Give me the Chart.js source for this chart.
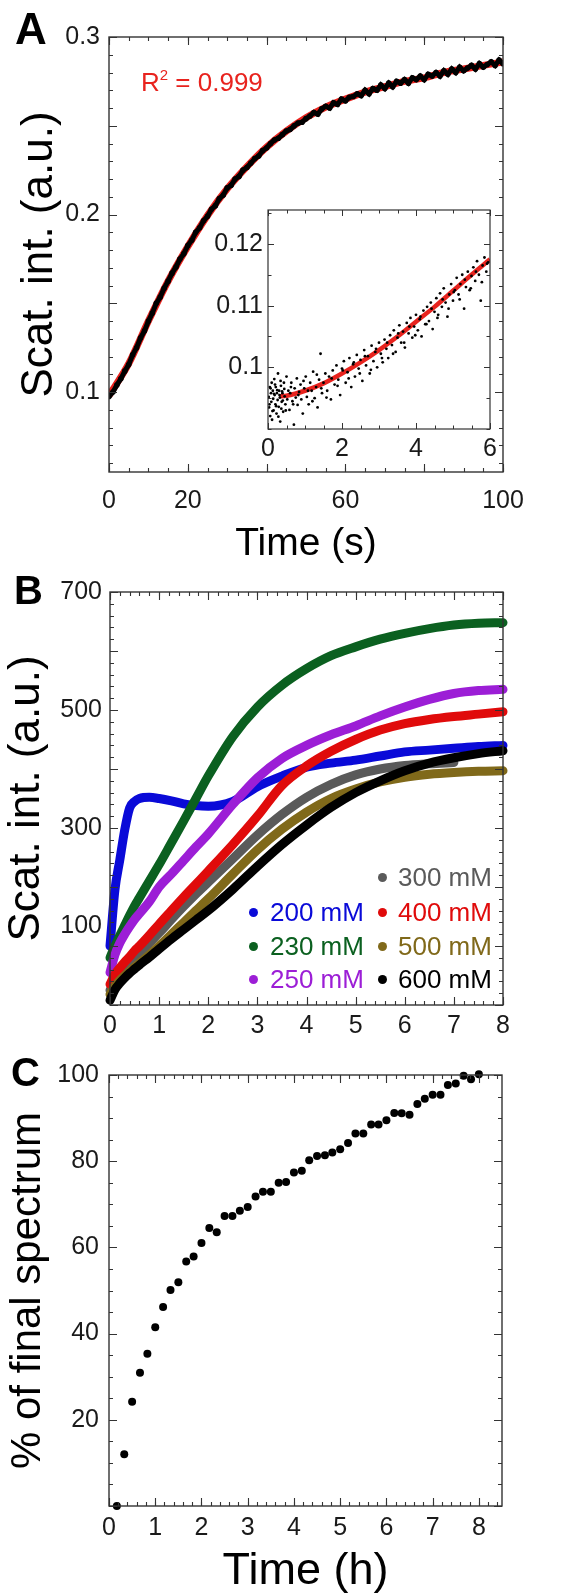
<!DOCTYPE html>
<html>
<head>
<meta charset="utf-8">
<script src="https://cdn.jsdelivr.net/npm/chart.js@4.4.1/dist/chart.umd.min.js"></script>
<style>
  html, body { margin: 0; padding: 0; background: #fff; }
  body { width: 576px; height: 1594px; position: relative; overflow: hidden; font-family: "Liberation Sans", Arial, sans-serif; }
  canvas { position: absolute; }
  .lbl { position: absolute; line-height: 1; white-space: nowrap; }
  .letter { font-weight: bold; color: #000; }
  .dot { position: absolute; border-radius: 50%; }
</style>
</head>
<body>
<canvas id="cA" width="576" height="570" style="left:0;top:0;width:576px;height:570px"></canvas>
<canvas id="cIn" width="310" height="280" style="left:200px;top:190px;width:310px;height:280px"></canvas>
<canvas id="cB" width="576" height="510" style="left:0;top:560px;width:576px;height:510px"></canvas>
<canvas id="cC" width="576" height="544" style="left:0;top:1050px;width:576px;height:544px"></canvas>

<div class="lbl letter" style="left:15px;top:7px;font-size:44px">A</div>
<div class="lbl letter" style="left:14px;top:570px;font-size:40px">B</div>
<div class="lbl letter" style="left:11px;top:1052px;font-size:40px">C</div>
<div class="lbl" style="left:141px;top:69px;font-size:26px;color:#e8231e">R<sup style="font-size:15px;vertical-align:11px;line-height:0">2</sup> = 0.999</div>
<div id="legendB"></div>

<script>
// ---------- Panel A: main kinetics (time in s) ----------
const aTime = [0,1,2,3,4,5,6,7,8,9,10,11,12,13,14,15,16,17,18,19,20,21,22,23,24,25,26,27,28,29,30,31,32,33,34,35,36,37,38,39,40,41,42,43,44,45,46,47,48,49,50,51,52,53,54,55,56,57,58,59,60,61,62,63,64,65,66,67,68,69,70,71,72,73,74,75,76,77,78,79,80,81,82,83,84,85,86,87,88,89,90,91,92,93,94,95,96,97,98,99,100];
const aScat = [0.0975,0.1000,0.1040,0.1075,0.1118,0.1155,0.1210,0.1250,0.1305,0.1345,0.1400,0.1445,0.1500,0.1535,0.1585,0.1625,0.1670,0.1705,0.1750,0.1780,0.1825,0.1855,0.1900,0.1925,0.1965,0.1990,0.2030,0.2050,0.2090,0.2110,0.2150,0.2165,0.2200,0.2215,0.2250,0.2265,0.2290,0.2315,0.2330,0.2360,0.2375,0.2400,0.2420,0.2430,0.2450,0.2470,0.2480,0.2500,0.2515,0.2520,0.2540,0.2555,0.2575,0.2565,0.2595,0.2610,0.2600,0.2630,0.2620,0.2650,0.2640,0.2660,0.2665,0.2680,0.2670,0.2700,0.2680,0.2710,0.2700,0.2730,0.2710,0.2740,0.2720,0.2750,0.2740,0.2760,0.2740,0.2770,0.2760,0.2780,0.2760,0.2790,0.2780,0.2800,0.2780,0.2810,0.2790,0.2820,0.2800,0.2830,0.2810,0.2825,0.2840,0.2820,0.2850,0.2830,0.2845,0.2860,0.2840,0.2870,0.2850];
const aFitTime = [0,5,10,15,20,25,30,35,40,45,50,55,60,65,70,75,80,85,90,95,100];
const aFit = [0.0980,0.1160,0.1400,0.1625,0.1820,0.1995,0.2145,0.2270,0.2380,0.2470,0.2545,0.2605,0.2650,0.2690,0.2720,0.2750,0.2770,0.2800,0.2820,0.2840,0.2860];
const aXLabels = [0,20,60,100];
const aYLabels = [0.1,0.2,0.3];

// ---------- Panel A inset (first 6 s) ----------
const inT = [0.02,0.03,0.05,0.06,0.08,0.09,0.1,0.11,0.13,0.14,0.15,0.17,0.18,0.2,0.21,0.23,0.24,0.26,0.27,0.29,0.3,0.32,0.33,0.35,0.37,0.39,0.41,0.43,0.45,0.47,0.5,0.52,0.55,0.58,0.6,0.63,0.66,0.7,0.72,0.75,0.78,0.8,0.84,0.88,0.9,0.94,0.98,1.02,1.05,1.1,1.14,1.18,1.22,1.26,1.3,1.34,1.38,1.42,1.46,1.5,1.55,1.6,1.65,1.7,1.75,1.8,1.85,1.9,1.95,2.0,2.05,2.1,2.15,2.2,2.25,2.3,2.35,2.4,2.45,2.5,2.55,2.6,2.65,2.7,2.75,2.8,2.85,2.9,2.95,3.0,3.05,3.1,3.15,3.2,3.25,3.3,3.35,3.4,3.45,3.5,3.55,3.6,3.65,3.7,3.75,3.8,3.85,3.9,3.95,4.0,4.05,4.1,4.15,4.2,4.25,4.3,4.35,4.4,4.45,4.5,4.55,4.6,4.65,4.7,4.75,4.8,4.85,4.9,4.95,5.0,5.05,5.1,5.15,5.2,5.25,5.3,5.35,5.4,5.45,5.5,5.55,5.6,5.65,5.7,5.75,5.8,5.85,5.9,5.95,0.04,0.07,0.12,0.16,0.19,0.22,0.25,0.28,0.31,0.34,0.36,0.38,0.4,0.44,0.48,0.62,0.68,0.82,0.96,1.08,1.2,1.32,1.44,1.58,1.72,1.88,2.02,2.18,2.32,2.48,2.62,2.78,2.92,3.08,3.22,3.38,3.52,3.68,3.82,3.98,4.12,4.28,4.42,4.58,4.72,4.88,5.02,5.18,5.32,5.48,5.62,5.78,5.92];
const inV = [0.0952,0.0935,0.0968,0.0921,0.0958,0.0944,0.0975,0.0915,0.0962,0.0949,0.0930,0.0981,0.0955,0.0940,0.0968,0.0925,0.0958,0.0947,0.0990,0.0936,0.0962,0.0951,0.0912,0.0970,0.0944,0.0958,0.0928,0.0975,0.0953,0.0940,0.0985,0.0948,0.0962,0.0931,0.0958,0.0975,0.0945,0.0907,0.0966,0.0951,0.0982,0.0939,0.0960,0.0972,0.0948,0.0925,0.0966,0.0985,0.0952,0.0940,0.0975,0.0962,0.0993,0.0950,0.0968,0.0935,0.0980,0.1022,0.0958,0.0975,0.0990,0.0962,0.0985,0.0948,0.0995,0.0972,0.1003,0.0980,0.0955,0.0998,0.1010,0.0975,0.0992,0.1015,0.0968,0.1005,0.0985,0.1020,0.0998,0.1012,0.0978,0.1028,0.1003,0.1018,0.0990,0.1035,0.1010,0.1025,0.1000,0.1040,0.1022,0.1008,0.1045,0.1030,0.1015,0.1052,0.1036,0.1060,0.1025,0.1048,0.1068,0.1040,0.1058,0.1032,0.1072,0.1055,0.1080,0.1048,0.1066,0.1085,0.1060,0.1078,0.1050,0.1092,0.1070,0.1098,0.1075,0.1105,0.1062,0.1090,0.1112,0.1085,0.1120,0.1098,0.1128,0.1105,0.1082,0.1118,0.1135,0.1108,0.1125,0.1145,0.1118,0.1135,0.1150,0.1095,0.1130,0.1155,0.1125,0.1148,0.1162,0.1140,0.1172,0.1150,0.1108,0.1165,0.1178,0.1155,0.1170,0.0940,0.0966,0.0929,0.0957,0.0972,0.0937,0.0963,0.0920,0.0955,0.0978,0.0933,0.0961,0.0946,0.0965,0.0930,0.0968,0.0940,0.0955,0.0978,0.0962,0.0945,0.0988,0.0966,0.0951,0.0982,0.0970,0.0995,0.0982,0.1008,0.0990,0.1018,0.0996,0.1030,0.1015,0.1040,0.1022,0.1055,0.1040,0.1066,0.1052,0.1082,0.1070,0.1095,0.1080,0.1110,0.1095,0.1122,0.1110,0.1142,0.1128,0.1155,0.1138,0.1168];
const inFitT = [0.3,0.5,1,1.5,2,2.5,3,3.5,4,4.5,5,5.5,6];
const inFit = [0.0953,0.0954,0.0962,0.0974,0.0990,0.1008,0.1028,0.1050,0.1074,0.1098,0.1124,0.1150,0.1175];
const inXLabels = [0,2,4,6];
const inYLabels = [0.1,0.11,0.12];

// ---------- Panel B: scattering vs time (h) at several concentrations ----------
const bTime = [0,0.1,0.2,0.3,0.4,0.5,0.6,0.8,1,1.25,1.5,1.75,2,2.5,3,3.5,4,4.5,5,5.5,6,6.5,7,7.5,8];
const bLabels = ['200 mM','230 mM','250 mM','300 mM','400 mM','500 mM','600 mM'];
const bColors = ['#0a0ad8','#0b6020','#9c1ed6','#5a5a5a','#e00b0b','#80691a','#000000'];
const b200 = [100,195,246,297,334,345,350,352,350,346,341,338,337,345,370,388,403,410,415,422,429,432,435,438,440];
const b230 = [80,100,118,135,152,168,182,210,238,275,312,350,388,455,505,542,570,592,607,620,630,638,644,647,648];
const b250 = [55,85,105,120,133,145,155,175,200,222,245,268,290,340,385,418,440,458,473,490,505,518,528,533,535];
const b300 = [25,42,53,62,71,80,88,105,122,145,167,188,208,248,288,323,352,374,390,400,406,409,411,null,null];
const b400 = [35,52,63,73,82,92,100,118,137,160,183,205,227,272,320,372,405,430,450,466,477,484,489,493,497];
const b500 = [18,32,42,50,57,64,71,85,100,120,140,160,180,222,263,298,327,350,366,378,386,391,394,396,397];
const b600 = [8,26,37,46,54,61,68,81,95,112,128,144,160,196,235,272,305,335,360,380,397,410,419,426,431];
const bSeries = [b200,b230,b250,b300,b400,b500,b600];
const bXLabels = [0,1,2,3,4,5,6,7,8];
const bYValues = [700,500,300,133];      // positions of the printed labels
const bYText = ['700','500','300','100']; // printed labels

// ---------- Panel C: % of final spectrum vs time (h) ----------
const cTime = [0.17,0.33,0.5,0.67,0.83,1.0,1.17,1.33,1.5,1.67,1.83,2.0,2.17,2.33,2.5,2.67,2.83,3.0,3.17,3.33,3.5,3.67,3.83,4.0,4.17,4.33,4.5,4.67,4.83,5.0,5.17,5.33,5.5,5.67,5.83,6.0,6.17,6.33,6.5,6.67,6.83,7.0,7.17,7.33,7.5,7.67,7.83,8.0];
const cPct = [0,12.0,24.2,30.9,35.3,41.5,46.2,50.1,51.9,56.7,57.9,61.0,64.5,63.5,67.3,67.3,68.5,69.4,71.8,72.9,72.9,75.0,75.2,77.4,77.8,80.2,81.2,81.4,82.0,82.8,84.2,86.4,86.4,88.5,88.5,89.5,91.2,91.1,90.8,93.3,94.5,95.4,95.4,97.7,98.0,99.8,99.0,100.2];
const cXLabels = [0,1,2,3,4,5,6,7,8];
const cYLabels = [20,40,60,80,100];

// ---------- helpers ----------
const FONT = "'Liberation Sans', Arial, sans-serif";
function range(a, b, step) { const r = []; for (let v = a; v <= b + step / 1000; v += step) r.push(+v.toFixed(6)); return r; }
function pts(xs, ys) { const o = []; xs.forEach((x, i) => { if (ys[i] !== null) o.push({x: x, y: ys[i]}); }); return o; }

const framePlugin = {
  id: 'frame',
  afterDraw(chart, args, o) {
    const {ctx, chartArea: a, scales} = chart;
    ctx.save();
    ctx.strokeStyle = '#333';
    ctx.lineWidth = o.lw || 1.4;
    ctx.strokeRect(a.left, a.top, a.right - a.left, a.bottom - a.top);
    ctx.lineWidth = o.tw || 1.1;
    const draw = (axis, vals, len) => {
      const s = scales[axis];
      ctx.beginPath();
      vals.forEach(v => {
        const p = Math.round(s.getPixelForValue(v)) + 0.5;
        if (axis === 'x') {
          ctx.moveTo(p, a.bottom); ctx.lineTo(p, a.bottom - len);
          ctx.moveTo(p, a.top); ctx.lineTo(p, a.top + len);
        } else {
          ctx.moveTo(a.left, p); ctx.lineTo(a.left + len, p);
          ctx.moveTo(a.right, p); ctx.lineTo(a.right - len, p);
        }
      });
      ctx.stroke();
    };
    draw('x', o.xMinor, o.minLen || 4); draw('x', o.xMajor, o.majLen || 8);
    draw('y', o.yMinor, o.minLen || 4); draw('y', o.yMajor, o.majLen || 8);
    ctx.restore();
  }
};
Chart.register(framePlugin);

function axis(opts) {
  const o = {
    type: 'linear', min: opts.min, max: opts.max,
    grid: {display: false, drawTicks: false},
    border: {display: false},
    ticks: {
      color: '#1a1a1a', font: {family: FONT, size: opts.tickSize || 25}, padding: opts.pad,
      autoSkip: false, maxRotation: 0, minRotation: 0,
      callback: opts.cb || ((v) => String(v))
    },
    afterBuildTicks: (s) => { s.ticks = opts.labels.map(v => ({value: v})); },
    afterFit: opts.fit
  };
  if (opts.title) {
    o.title = {display: true, text: opts.title, color: '#000', font: {family: opts.titleFont || FONT, size: opts.titleSize, lineHeight: 1}, padding: opts.titlePad};
  }
  return o;
}
const base = (pad) => ({
  responsive: false, animation: false, events: [], devicePixelRatio: 1,
  layout: {padding: pad},
  plugins: {legend: {display: false}, tooltip: {enabled: false}}
});

// ---------- Chart A ----------
{
  const opt = base({left: 0, top: 37, right: 73, bottom: 0});
  opt.plugins.frame = {xMajor: range(0,100,20), xMinor: range(0,100,5), yMajor: range(0.1,0.3,0.05), yMinor: range(0.06,0.3,0.01)};
  opt.scales = {
    x: axis({min: 0, max: 100, labels: aXLabels, pad: 14, fit: s => { s.height = 98; }, title: 'Time (s)', titleSize: 39, titlePad: {top: 0, bottom: 6}}),
    y: axis({min: 0.055, max: 0.3, labels: aYLabels, pad: 9, fit: s => { s.width = 109; }, title: 'Scat. int. (a.u.)', titleSize: 44, titlePad: {top: 18, bottom: 0}})
  };
  new Chart(document.getElementById('cA'), {
    type: 'scatter',
    data: {datasets: [
      {data: pts(aTime, aScat), showLine: true, borderColor: '#000', borderWidth: 5, pointRadius: 2.8, pointBackgroundColor: '#000', pointBorderWidth: 0, order: 1},
      {data: pts(aFitTime, aFit), showLine: true, borderColor: '#e8231e', borderWidth: 7, pointRadius: 0, cubicInterpolationMode: 'monotone', order: 2}
    ]},
    options: opt
  });
}

// ---------- Inset ----------
{
  const opt = base({left: 0, top: 17, right: 20, bottom: 0});
  opt.plugins.frame = {xMajor: range(0,6,2), xMinor: range(0,6,0.5), yMajor: [0.1,0.11,0.12], yMinor: range(0.09,0.125,0.005), majLen: 6, minLen: 3.5, lw: 1.2, tw: 1};
  opt.scales = {
    x: axis({min: 0, max: 6, labels: inXLabels, pad: 5, fit: s => { s.height = 41; }}),
    y: axis({min: 0.09, max: 0.1255, labels: inYLabels, pad: 5, fit: s => { s.width = 68; }})
  };
  new Chart(document.getElementById('cIn'), {
    type: 'scatter',
    data: {datasets: [
      {data: pts(inT, inV), pointRadius: 1.4, pointBackgroundColor: '#000', pointBorderWidth: 0, order: 1},
      {data: pts(inFitT, inFit), showLine: true, borderColor: '#e8231e', borderWidth: 4.5, pointRadius: 0, cubicInterpolationMode: 'monotone', order: 2}
    ]},
    options: opt
  });
}

// ---------- Chart B ----------
{
  const opt = base({left: 0, top: 32, right: 73, bottom: 0});
  opt.plugins.frame = {xMajor: range(0,8,1), xMinor: range(0,8,0.2), yMajor: range(0,700,100), yMinor: range(0,700,20)};
  opt.scales = {
    x: axis({min: 0, max: 8, labels: bXLabels, pad: 6, fit: s => { s.height = 65; }}),
    y: axis({min: 0, max: 700, labels: bYValues, pad: 8, cb: (v) => bYText[bYValues.indexOf(v)], fit: s => { s.width = 110; }, title: 'Scat. int. (a.u.)', titleSize: 44, titlePad: {top: 5, bottom: 0}})
  };
  new Chart(document.getElementById('cB'), {
    type: 'scatter',
    data: {datasets: bSeries.map((ys, i) => ({
      label: bLabels[i], data: pts(bTime, ys), showLine: true, borderColor: bColors[i], backgroundColor: bColors[i],
      borderWidth: 9, borderCapStyle: 'round', pointRadius: 0, cubicInterpolationMode: 'monotone', order: 7 - i, clip: false
    }))},
    options: opt
  });
  // legend (two columns)
  const leg = document.getElementById('legendB');
  const place = [[0,1],[0,2],[0,3],[1,0],[1,1],[1,2],[1,3]];
  const rowY = [877, 912, 946, 979];
  const colDot = [253, 382], colTxt = [270, 398];
  bLabels.forEach((t, i) => {
    const [c, r] = place[i];
    const d = document.createElement('div');
    d.className = 'dot';
    d.style.cssText = `left:${colDot[c]-4.5}px;top:${rowY[r]-4.5}px;width:9px;height:9px;background:${bColors[i]}`;
    leg.appendChild(d);
    const s = document.createElement('div');
    s.className = 'lbl';
    s.textContent = t;
    s.style.cssText = `left:${colTxt[c]}px;top:${rowY[r]-13}px;font-size:26px;color:${bColors[i]}`;
    leg.appendChild(s);
  });
}

// ---------- Chart C ----------
{
  const opt = base({left: 0, top: 24, right: 74, bottom: 0});
  opt.plugins.frame = {xMajor: range(0,8,1), xMinor: range(0,8.4,0.2), yMajor: range(0,100,20), yMinor: range(0,100,5)};
  opt.scales = {
    x: axis({min: 0, max: 8.5, labels: cXLabels, pad: 7, fit: s => { s.height = 88; }, title: 'Time (h)', titleSize: 45, titlePad: {top: 0, bottom: 0}}),
    y: axis({min: 0, max: 100, labels: cYLabels, pad: 10, fit: s => { s.width = 109; }, title: '% of final spectrum', titleSize: 42, titlePad: {top: 7, bottom: 0}})
  };
  new Chart(document.getElementById('cC'), {
    type: 'scatter',
    data: {datasets: [{data: pts(cTime, cPct), pointRadius: 4, pointBackgroundColor: '#000', pointBorderWidth: 0, clip: false}]},
    options: opt
  });
}
</script>
</body>
</html>
